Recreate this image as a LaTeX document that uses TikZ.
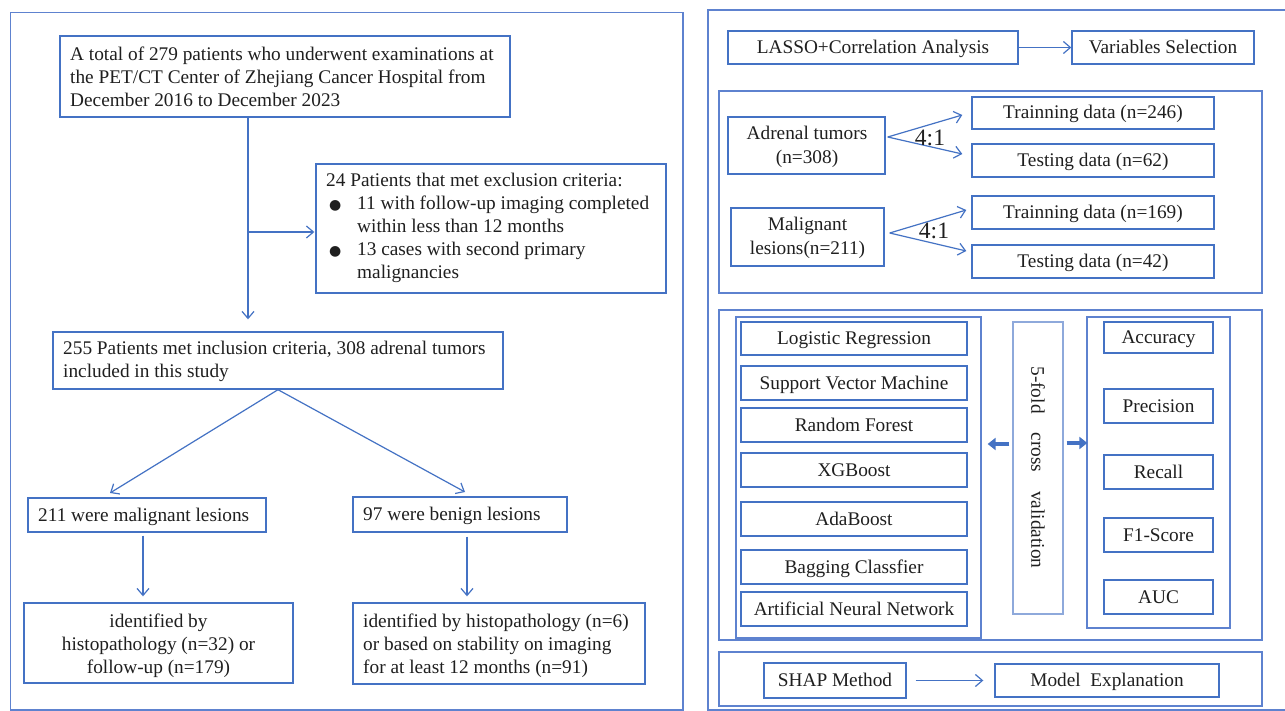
\documentclass[tikz,border=0pt]{standalone}
\usepackage{fontspec}
\setmainfont{Liberation Serif}
\newfontfamily\symfont{DejaVu Sans}
\usetikzlibrary{arrows.meta,calc}
\definecolor{bblue}{HTML}{4472C4}
\definecolor{pblue}{HTML}{5E82CF}
\definecolor{lblue}{HTML}{8EA9DB}
\definecolor{tcol}{HTML}{1F1F1F}
\newcommand{\bul}{\makebox[31pt][l]{\hspace*{3pt}{\symfont\fontsize{14}{14}\selectfont ●}}}
\begin{document}
\begin{tikzpicture}[x=1pt,y=-1pt,
  every node/.style={font=\fontsize{19.3}{23}\selectfont, text=tcol},
  box/.style={draw=bblue, line width=1.4pt, inner sep=0pt},
  one/.style={box, text height=16pt, text depth=4pt},
  cont/.style={draw=pblue, line width=1.3pt, inner sep=0pt},
  panel/.style={draw=pblue, line width=1.3pt},
  txt/.style={inner sep=0pt},
  arr/.style={draw=bblue, line width=1.2pt, -{Straight Barb[length=7pt,width=12pt]}},
  tarr/.style={draw=bblue, line width=4.5pt, -{Triangle[length=8pt,width=12pt]}}]
\useasboundingbox (0,0) rectangle (1285,711);
\fill[white] (0,0) rectangle (1285,711);

% ---------- left panel ----------
\draw[panel] (10.5,12.5) rectangle (683,710);

\node[box, minimum width=450, minimum height=81] (total) at (285,76.5) {};
\node[txt, anchor=base west, align=left] (totalt) at (70,107)
  {\mbox{A total of 279 patients who underwent examinations at}\\
   \mbox{the PET/CT Center of Zhejiang Cancer Hospital from}\\
   December 2016 to December 2023};

\node[box, minimum width=350, minimum height=129] (excl) at (491,228.5) {};
\node[txt, anchor=base west, align=left] (exclt) at (326,279)
  {24 Patients that met exclusion criteria:\\
   \bul 11 with follow-up imaging completed\\
   \hspace*{31pt}within less than 12 months\\
   \bul 13 cases with second primary\\
   \hspace*{31pt}malignancies};

\node[box, minimum width=450, minimum height=57] (incl) at (278,360.5) {};
\node[txt, anchor=base west, align=left] (inclt) at (63,377)
  {255 Patients met inclusion criteria, 308 adrenal tumors\\
   included in this study};

\node[box, minimum width=238, minimum height=34] (malig) at (147,515) {};
\node[txt, anchor=base west] (maligt) at (38,521) {211 were malignant lesions};

\node[box, minimum width=214, minimum height=35] (benign) at (460,514.5) {};
\node[txt, anchor=base west] (benignt) at (363,520) {97 were benign lesions};

\node[box, minimum width=269, minimum height=80] (idmal) at (158.5,643) {};
\node[txt, anchor=base, align=center] (idmalt) at (158.5,673)
  {identified by\\ histopathology (n=32) or\\ follow-up (n=179)};

\node[box, minimum width=292, minimum height=81] (idben) at (499,643.5) {};
\node[txt, anchor=base west, align=left] (idbent) at (363,673)
  {\mbox{identified by histopathology (n=6)}\\
   or based on stability on imaging\\
   for at least 12 months (n=91)};

\coordinate (vx) at (248,0);
\coordinate (br) at (248,232);
\coordinate (tipm) at (110,493);
\coordinate (tipb) at (465,492);
\coordinate (ma) at (143,0);
\coordinate (mb) at (467,0);

\draw[arr] (total.south -| vx) -- ($(incl.north -| vx)+(0,-12)$);
\draw[arr] (br) -- ($(br -| excl.west)+(-1,0)$);
\draw[arr] (incl.south) -- (tipm);
\draw[arr] (incl.south) -- (tipb);
\draw[arr] ($(malig.south -| ma)+(0,3)$) -- ($(idmal.north -| ma)+(0,-6)$);
\draw[arr] ($(benign.south -| mb)+(0,4)$) -- ($(idben.north -| mb)+(0,-6)$);

% ---------- right panel ----------
\draw[panel] (1286,10) -- (708,10) -- (708,710) -- (1286,710);

\node[one, minimum width=290, minimum height=33] (lasso) at (873,47.5) {LASSO+Correlation Analysis};
\node[one, minimum width=182, minimum height=33] (varsel) at (1163,47.5) {Variables Selection};
\draw[arr] (lasso) -- (varsel);

\draw[panel] (719,91) rectangle (1262,293);
\node[box, minimum width=157, minimum height=57] (adr) at (806.5,145.5) {};
\node[txt, anchor=base, align=center, font=\fontsize{19.3}{24}\selectfont] (adrt) at (807,164) {Adrenal tumors\\(n=308)};
\node[one, minimum width=242, minimum height=32] (tr1) at (1093,113) {Trainning data (n=246)};
\node[one, minimum width=242, minimum height=33] (te1) at (1093,160.5) {Testing data (n=62)};

\node[box, minimum width=153, minimum height=58] (mal2) at (807.5,237) {};
\node[txt, anchor=base, align=center, font=\fontsize{19.3}{24}\selectfont] (mal2t) at (807.5,255) {Malignant\\lesions(n=211)};
\node[one, minimum width=242, minimum height=33] (tr2) at (1093,212.5) {Trainning data (n=169)};
\node[one, minimum width=242, minimum height=33] (te2) at (1093,261.5) {Testing data (n=42)};

\draw[arr] ($(adr.east)+(2,-8.5)$) -- ($(tr1.west)+(-9,2)$);
\draw[arr] ($(adr.east)+(2,-8.5)$) -- ($(te1.west)+(-9,-6.5)$);
\draw[arr] ($(mal2.east)+(5,-4)$) -- ($(tr2.west)+(-5,-2.5)$);
\draw[arr] ($(mal2.east)+(5,-4)$) -- ($(te2.west)+(-5,-10.5)$);
\node[txt, anchor=base, font=\fontsize{23.5}{24}\selectfont] (r1) at (930,146) {4:1};
\node[txt, anchor=base, font=\fontsize{23.5}{24}\selectfont] (r2) at (934,239) {4:1};

\draw[panel] (719,310) rectangle (1262,640);
\node[cont, minimum width=245, minimum height=321] (models) at (858.5,477.5) {};
\node[one, minimum width=226, minimum height=33] (lr) at (854,338.5) {Logistic Regression};
\node[one, minimum width=226, minimum height=34] (svm) at (854,383) {Support Vector Machine};
\node[one, minimum width=226, minimum height=34] (rf) at (854,425) {Random Forest};
\node[one, minimum width=226, minimum height=34] (xgb) at (854,470) {XGBoost};
\node[one, minimum width=226, minimum height=34] (ada) at (854,519) {AdaBoost};
\node[one, minimum width=226, minimum height=34] (bag) at (854,567) {Bagging Classfier};
\node[one, minimum width=226, minimum height=34] (ann) at (854,609) {Artificial Neural Network};

\node[draw=lblue, line width=1.2pt, inner sep=0pt, minimum width=50, minimum height=292] (cv) at (1038,468) {};
\node[txt, rotate=-90] (cvt) at (1038,467.5) {5-fold\hspace{19pt}cross\hspace{19pt}validation};

\node[cont, minimum width=143, minimum height=311] (metrics) at (1158.5,472.5) {};
\node[one, minimum width=109, minimum height=31] (acc) at (1158.5,337.5) {Accuracy};
\node[one, minimum width=109, minimum height=34] (prec) at (1158.5,406) {Precision};
\node[one, minimum width=109, minimum height=34] (rec) at (1158.5,472) {Recall};
\node[one, minimum width=109, minimum height=34] (f1) at (1158.5,535) {F1-Score};
\node[one, minimum width=109, minimum height=34] (auc) at (1158.5,597) {AUC};

\draw[tarr] ($(cv.west)+(-3,-24)$) -- ($(models.east |- cv.west)+(6,-24)$);
\draw[tarr] ($(cv.east)+(3,-25)$) -- ($(metrics.west |- cv.east)+(1,-25)$);

\draw[panel] (719,652) rectangle (1262,706);
\node[one, minimum width=142, minimum height=35] (shap) at (835,680.5) {SHAP Method};
\node[one, minimum width=224, minimum height=33] (me) at (1107,680.5) {Model\ \ Explanation};
\draw[arr, shorten <=9pt, shorten >=11pt] (shap) -- (me);
\end{tikzpicture}
\end{document}
